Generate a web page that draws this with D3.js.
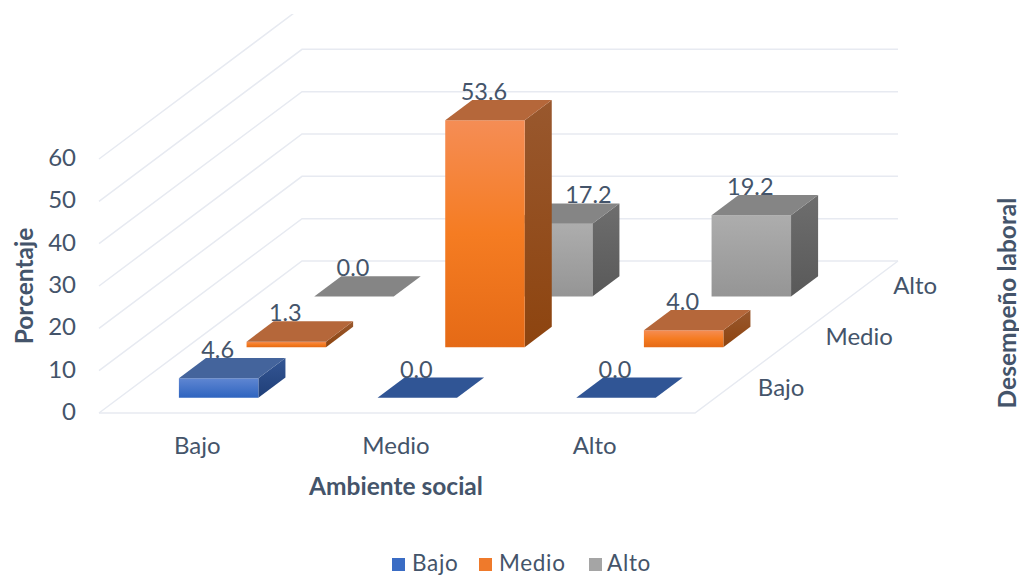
<!DOCTYPE html>
<html lang="es">
<head>
<meta charset="utf-8">
<title>Ambiente social y desempeño laboral</title>
<script src="https://cdn.jsdelivr.net/npm/d3@7/dist/d3.min.js"></script>
<style>
  html, body { margin: 0; padding: 0; background: #fff; }
  svg { display: block; }
  text { font-family: Lato, "Open Sans", sans-serif; fill: #44546a; }
  .tick-label { font-size: 24px; }
  .data-label { font-size: 23.5px; }
  .axis-title { font-size: 24.5px; font-weight: 700; }
  .legend-label { font-size: 22.5px; letter-spacing: 0.7px; }
</style>
</head>
<body>
<svg id="chart" width="1019" height="576"></svg>
<script>
// Categories along the width axis and along the depth axis
const socialLevels = ["Bajo", "Medio", "Alto"];
const workLevels = ["Bajo", "Medio", "Alto"];
const valueTicks = [0, 10, 20, 30, 40, 50, 60];

// Percentages per depth series, one value per social level
const seriesBajo = [4.6, 0.0, 0.0];
const seriesMedio = [1.3, 53.6, 4.0];
const seriesAlto = [0.0, 17.2, 19.2];

const seriesValues = [seriesBajo, seriesMedio, seriesAlto];

const palettes = [
  { front: ["#5f86d2", "#2e64bf"], top: "#44649c", side: ["#345694", "#203f78"], flat: "#305595", key: "#3a6cc4" },
  { front: ["#f58d55", "#f57c22", "#e56a16"], top: "#b5673a", side: ["#99582e", "#8d440f"], flat: "#b5673a", key: "#ef7a2b" },
  { front: ["#adadad", "#959595"], top: "#858585", side: ["#6e6e6e", "#595959"], flat: "#858585", key: "#a5a5a5" }
];

const svg = d3.select("#chart");

// Oblique projection: width runs right, depth runs up and to the right, value runs up
const xScale = d3.scaleLinear().domain([0, 3]).range([0, 596]);
const zScaleX = d3.scaleLinear().domain([0, 3]).range([0, 203]);
const zScaleY = d3.scaleLinear().domain([0, 3]).range([0, -152]);
const yScale = d3.scaleLinear().domain([0, 60]).range([0, -254]);
const originX = 99, originY = 413;

const project = (x, z, v) => [
  originX + xScale(x) + zScaleX(z),
  originY + zScaleY(z) + yScale(v)
];
const polygon = pts => d3.line()(pts) + "Z";

const defs = svg.append("defs");
defs.append("clipPath").attr("id", "plot-clip")
  .append("rect").attr("x", 0).attr("y", 14).attr("width", 1019).attr("height", 562);

function gradient(id, stops) {
  const g = defs.append("linearGradient").attr("id", id)
    .attr("x1", 0).attr("y1", 0).attr("x2", 0).attr("y2", 1);
  stops.forEach((c, i) => g.append("stop")
    .attr("offset", stops.length > 1 ? i / (stops.length - 1) : 0)
    .attr("stop-color", c));
}
palettes.forEach((p, i) => {
  gradient(`front-${i}`, p.front);
  gradient(`side-${i}`, p.side);
});

// Gridlines on the left wall and the back wall, plus the floor's near edges
const grid = svg.append("g")
  .attr("clip-path", "url(#plot-clip)")
  .attr("fill", "none")
  .attr("stroke", "#e7eaf1")
  .attr("stroke-width", 1.5);

valueTicks.forEach(v => {
  grid.append("path").attr("d", d3.line()([project(0, 0, v), project(0, 3, v), project(3, 3, v)]));
});
grid.append("path").attr("d", d3.line()([project(0, 0, 0), project(3, 0, 0), project(3, 3, 0)]));

// Bars, back row first so nearer bars cover farther ones
const barW = 0.4, barD = 0.4;
const bars = svg.append("g");
const labels = [];

// The label of a bar standing behind a taller one moves right to stay readable
const isHiddenBehind = (r, c) => r > 0 && seriesValues[r - 1][c] > seriesValues[r][c];

for (let r = 2; r >= 0; r--) {
  seriesValues[r].forEach((v, c) => {
    const x0 = c + (1 - barW) / 2, x1 = x0 + barW;
    const z0 = r + (1 - barD) / 2, z1 = z0 + barD;
    const g = bars.append("g");
    const p = palettes[r];
    g.append("path").attr("d", polygon([project(x1, z0, 0), project(x1, z1, 0), project(x1, z1, v), project(x1, z0, v)]))
      .attr("fill", `url(#side-${r})`);
    g.append("path").attr("d", polygon([project(x0, z0, 0), project(x1, z0, 0), project(x1, z0, v), project(x0, z0, v)]))
      .attr("fill", `url(#front-${r})`);
    g.append("path").attr("d", polygon([project(x0, z0, v), project(x1, z0, v), project(x1, z1, v), project(x0, z1, v)]))
      .attr("fill", v === 0 ? p.flat : p.top);
    const front = project((x0 + x1) / 2, z0, v);
    const back = project(x0, z1, v);
    const hidden = isHiddenBehind(r, c) && v > 10;
    labels.push({ x: hidden ? project(x1, z1, v)[0] - 30 : front[0], y: back[1], text: d3.format(".1f")(v) });
  });
}

svg.append("g").selectAll("text").data(labels).join("text")
  .attr("class", "data-label")
  .attr("x", d => d.x - 1)
  .attr("y", d => d.y)
  .attr("text-anchor", "middle")
  .text(d => d.text);

// Value axis labels
svg.append("g").selectAll("text").data(valueTicks).join("text")
  .attr("class", "tick-label")
  .attr("x", 76)
  .attr("y", v => originY + yScale(v) - 2.5)
  .attr("text-anchor", "end")
  .attr("dominant-baseline", "central")
  .text(v => v);

// Width axis labels
svg.append("g").selectAll("text").data(socialLevels).join("text")
  .attr("class", "tick-label")
  .attr("x", (d, i) => project(i + 0.5, 0, 0)[0] - 1)
  .attr("y", 444.5)
  .attr("text-anchor", "middle")
  .attr("dominant-baseline", "central")
  .text(d => d);

// Depth axis labels, running along the right edge of the floor
svg.append("g").selectAll("text").data(workLevels).join("text")
  .attr("class", "tick-label")
  .attr("x", (d, i) => project(3, i + 0.5, 0)[0] + 29)
  .attr("y", (d, i) => project(3, i + 0.5, 0)[1] - 1.5)
  .attr("text-anchor", "start")
  .attr("dominant-baseline", "central")
  .text(d => d);

// Axis titles
svg.append("text").attr("class", "axis-title")
  .attr("x", 396).attr("y", 485)
  .attr("text-anchor", "middle").attr("dominant-baseline", "central")
  .text("Ambiente social");
svg.append("text").attr("class", "axis-title")
  .attr("transform", "translate(23,286) rotate(-90)")
  .attr("text-anchor", "middle").attr("dominant-baseline", "central")
  .text("Porcentaje");
svg.append("text").attr("class", "axis-title")
  .attr("transform", "translate(1006,303) rotate(-90)")
  .attr("text-anchor", "middle").attr("dominant-baseline", "central")
  .text("Desempeño laboral");

// Legend
const legendX = [392, 479, 589];
const legendGap = [20, 20, 18];
const legend = svg.append("g").selectAll("g").data(workLevels).join("g")
  .attr("transform", (d, i) => `translate(${legendX[i]},558)`);
legend.append("rect").attr("width", 13).attr("height", 13)
  .attr("fill", (d, i) => palettes[i].key);
legend.append("text").attr("class", "legend-label")
  .attr("x", (d, i) => legendGap[i]).attr("y", 4.5)
  .attr("dominant-baseline", "central")
  .text(d => d);
</script>
</body>
</html>
